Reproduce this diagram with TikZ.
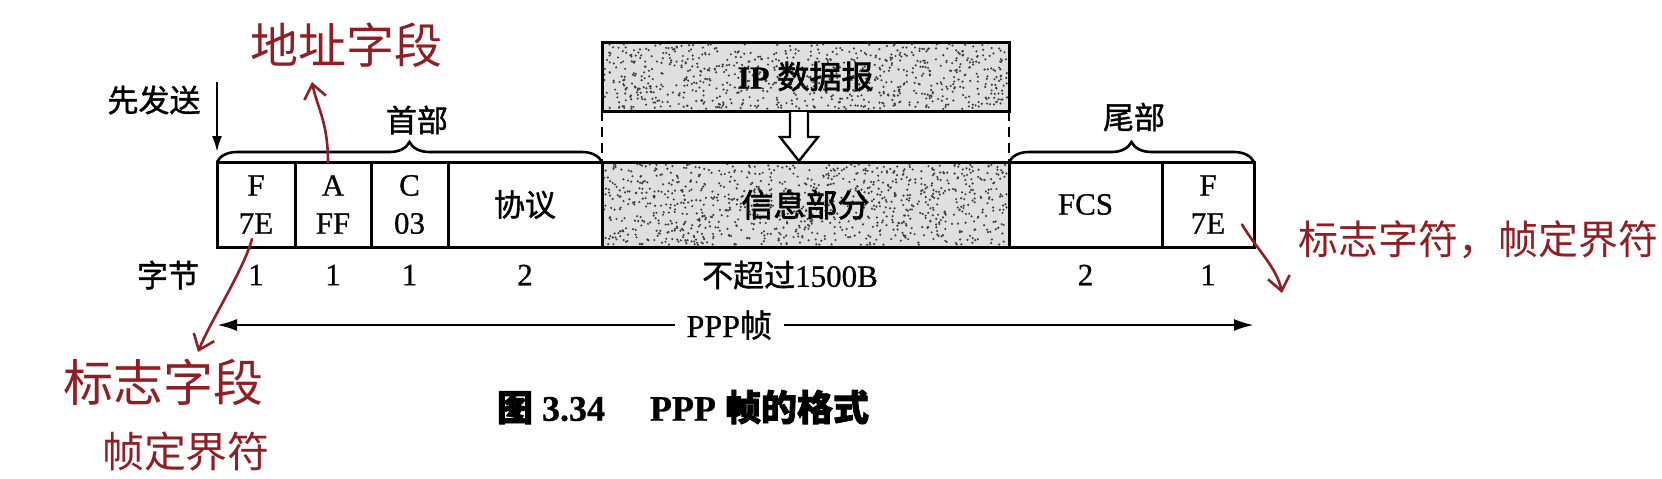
\documentclass[tikz,border=0pt]{standalone}
\usepackage{fontspec}
\setmainfont{Liberation Serif}[FakeBold=0.8]
\newfontfamily\cjk{Noto Sans CJK SC}
\newfontfamily\cjkm{Noto Sans CJK SC}[FakeBold=1.2]
\newfontfamily\cjkb{Noto Sans CJK SC}[FakeBold=2.2]
\usetikzlibrary{arrows.meta,decorations.pathreplacing,backgrounds}
\definecolor{ink}{RGB}{145,30,35}
\tikzset{
  cell/.style={draw, line width=1.5pt, minimum height=42.5pt, inner sep=0pt, outer sep=0pt,
    anchor=north west, align=center, font=\fontsize{15.5}{19}\selectfont},
  lbl/.style={inner sep=1pt, font=\fontsize{15.5}{19}\selectfont},
  clbl/.style={inner sep=1pt, font=\cjkm\fontsize{15.5}{19}\selectfont},
  hw/.style={text=ink, inner sep=0pt},
  hwarrow/.style={draw=ink, line width=1.3pt, line cap=round, -{Straight Barb[length=7pt,width=11pt]}},
  brc/.style={decorate, decoration={brace, amplitude=10pt}, line width=1.3pt},
  bigarrow/.style={line width=1.3pt, {Latex[length=10pt,width=6pt]}-{Latex[length=10pt,width=6pt]}},
  speck/.style={fill=black!75},
}
\begin{document}
\begin{tikzpicture}[x=0.5pt,y=-0.5pt]
\useasboundingbox (0,0) rectangle (1662,478);
% frame cells
\node[cell, minimum width=39pt] (F1) at (217,162) {F\\7E};
\node[cell, minimum width=38pt] (A) at (295,162) {A\\FF};
\node[cell, minimum width=38.5pt] (C) at (371,162) {C\\03};
\node[cell, minimum width=77pt, font=\cjkm\fontsize{15.5}{19}\selectfont] (proto) at (448,162) {协议};
\node[cell, minimum width=203.5pt, font=\cjkb\fontsize{16}{19}\selectfont] (info) at (602,162) {信息部分};
\node[cell, minimum width=76.5pt] (fcs) at (1009,162) {FCS};
\node[cell, minimum width=46pt] (F2) at (1162,162) {F\\7E};
% IP datagram
\node[cell, minimum width=203.5pt, minimum height=34.5pt, font=\fontsize{16}{19}\selectfont] (ip) at (602,42) {\textbf{IP} {\cjkb 数据报}};
% speckle texture
\begin{scope}[on background layer]
  \pgfmathsetseed{42}
  \fill[gray!25] (ip.north west) rectangle (ip.south east);
  \fill[gray!25] (info.north west) rectangle (info.south east);
  \foreach \i in {1,...,800} \fill[speck] ({604+403*rnd},{44+65*rnd}) circle (0.6pt);
  \foreach \i in {1,...,1000} \fill[speck] ({604+403*rnd},{164+81*rnd}) circle (0.6pt);
\end{scope}
% dashed guides
\draw[line width=1.2pt, dash pattern=on 5pt off 3pt] (ip.south west) -- (info.north west);
\draw[line width=1.2pt, dash pattern=on 5pt off 3pt] (ip.south east) -- (info.north east);
% hollow arrow
\draw[line width=1.2pt, fill=white] (790,112) -- (790,137) -- (780,137) -- (799,161) -- (818,137) -- (808,137) -- (808,112);
% braces
\draw[brc] (F1.north west) -- (proto.north east);
\draw[brc] (fcs.north west) -- (F2.north east);
\node[clbl] (hdr) at (417,120) {首部};
\node[clbl] (tail) at (1134,117) {尾部};
% send-first arrow
\node[clbl] (first) at (154,100) {先发送};
\coordinate (s0) at (217,82);
\draw[line width=1.1pt, -{Latex[length=8pt,width=5pt]}] (s0) -- ([yshift=5pt]F1.north west);
% byte counts
\node[clbl] (bytes) at (168,275) {字节};
\node[lbl] (n1) at (F1 |- bytes) {1};
\node[lbl] (n2) at (A |- bytes) {1};
\node[lbl] (n3) at (C |- bytes) {1};
\node[lbl] (n4) at (proto |- bytes) {2};
\node[lbl] (n5) at (790,275) {{\cjkm 不超过}1500B};
\node[lbl] (n6) at (fcs |- bytes) {2};
\node[lbl] (n7) at (F2 |- bytes) {1};
% PPP frame arrow
\coordinate (pl) at (217,325);
\coordinate (pr) at (1254,325);
\draw[bigarrow] (pl) -- (pr) node[pos=0.494, fill=white, inner xsep=6pt, font=\fontsize{16}{19}\selectfont] (ppp) {PPP{\cjkm 帧}};
% caption
\node (cap) at (683,407) {\fontsize{18}{20}\selectfont\bfseries {\cjkb 图} 3.34\quad\ PPP {\cjkb 帧的格式}};
% handwritten notes
\node[hw, font=\cjk\fontsize{24}{24}\selectfont] (addr) at (346,45) {地址字段};
\node[hw, font=\cjk\fontsize{25}{25}\selectfont] (flag1) at (163,382) {标志字段};
\node[hw, font=\cjk\fontsize{21}{21}\selectfont] (flag2) at (186,452) {帧定界符};
\node[hw, font=\cjk\fontsize{20}{20}\selectfont] (flag3) at (1478,240) {标志字符，帧定界符};
\coordinate (aT) at (312,82);
\coordinate (bT) at (198,352);
\coordinate (cT) at (1282,293);
\draw[hwarrow] ([xshift=-2.5pt]A.north) .. controls +(0,-40) and +(5,25) .. (aT);
\draw[hwarrow] ([xshift=-2pt,yshift=4pt]F1.south) .. controls +(-8,30) and +(12,-30) .. (bT);
\draw[hwarrow] ([xshift=-6pt,yshift=-10pt]F2.east) .. controls +(15,25) and +(-5,-25) .. (cT);
\end{tikzpicture}
\end{document}
